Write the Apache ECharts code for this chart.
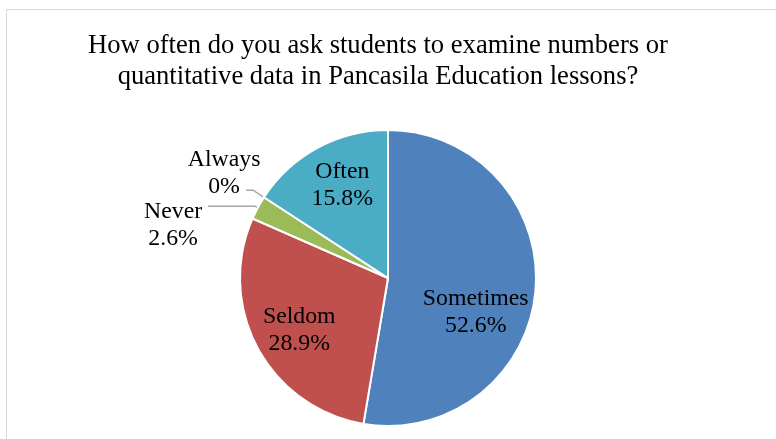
<!DOCTYPE html>
<html>
<head>
<meta charset="utf-8">
<script src="https://cdn.jsdelivr.net/npm/echarts@6/dist/echarts.min.js"></script>
<style>
  html, body { margin: 0; padding: 0; background: #fff; overflow: hidden; }
  .frame {
    position: absolute;
    left: 6px;
    top: 9px;
    width: 820px;
    height: 480px;
    border: 1px solid #d9d9d9;
  }
  #chart { position: absolute; left: 0; top: 0; width: 776px; height: 439px; }
</style>
</head>
<body>
<div class="frame"></div>
<div id="chart"></div>
<script>
const titleText = 'How often do you ask students to examine numbers or\nquantitative data in Pancasila Education lessons?'
const categories = ['Sometimes', 'Seldom', 'Never', 'Always', 'Often']
const percents = [52.6, 28.9, 2.6, 0, 15.8]
const sliceColors = ['#4f81bd', '#c0504d', '#9bbb59', '#8064a2', '#4bacc6']

const serif = "'Liberation Serif', 'Times New Roman', serif"

// nudges to put each label where Excel put it
const labelShift = [[11, 28], [-21, 16], [-30, 19], [-17, -17], [-9, -25]]
const outsideLabels = { Never: [3, 47], Always: [13, 7] }

const chart = echarts.init(document.getElementById('chart'))

const pieData = categories.map((name, i) => {
  const item = {
    name: name,
    value: percents[i],
    itemStyle: { color: sliceColors[i] }
  }
  if (outsideLabels[name]) {
    item.label = { position: 'outside', align: 'center' }
    item.labelLine = {
      show: true,
      length: outsideLabels[name][0],
      length2: outsideLabels[name][1]
    }
  }
  return item
})

chart.setOption({
  animation: false,
  title: {
    text: titleText,
    left: 378,
    top: 31,
    textAlign: 'center',
    padding: 0,
    textStyle: {
      fontFamily: serif,
      fontSize: 26.6,
      fontWeight: 'normal',
      color: '#000',
      lineHeight: 31
    }
  },
  series: [
    {
      type: 'pie',
      center: [388, 278],
      radius: 148,
      startAngle: 90,
      clockwise: true,
      avoidLabelOverlap: false,
      itemStyle: {
        borderColor: '#fff',
        borderWidth: 2
      },
      label: {
        show: true,
        position: 'inside',
        formatter: '{b}\n{c}%',
        fontFamily: serif,
        fontSize: 23.8,
        lineHeight: 27,
        color: '#000',
        align: 'center'
      },
      labelLine: {
        show: false,
        lineStyle: { color: '#a6a6a6', width: 1.5 }
      },
      labelLayout: (params) => {
        const s = labelShift[params.dataIndex]
        const out = { dx: s[0], dy: s[1], align: 'center' }
        if (params.labelLinePoints) out.labelLinePoints = params.labelLinePoints
        return out
      },
      data: pieData
    }
  ]
})
</script>
</body>
</html>
